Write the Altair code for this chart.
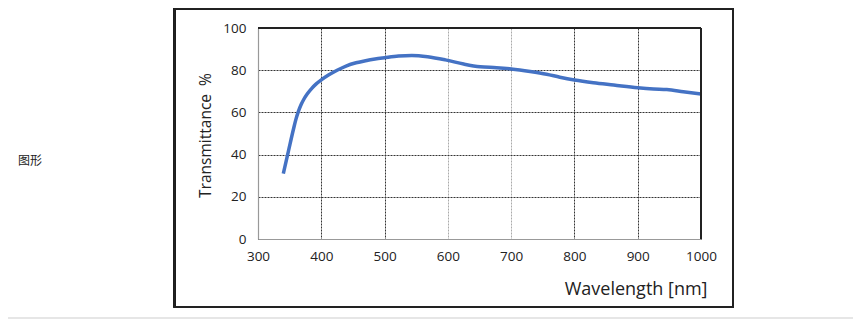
import altair as alt
import pandas as pd

wavelength = [340, 348, 356, 360, 364, 368, 372, 378, 385, 392, 400, 412, 425, 440, 455, 470, 485, 500,
              522, 543, 568, 596, 625, 651, 677, 700, 730, 756, 777, 800, 830, 862, 900, 925, 946,
              972, 1000]
transmittance = [31.0, 41.5, 52.0, 56.8, 60.6, 63.6, 66.0, 68.8, 71.4, 73.5, 75.4, 77.8, 80.0, 82.1,
                 83.5, 84.5, 85.3, 85.9, 86.7, 87.0, 86.4, 84.9, 82.9, 81.6, 81.2, 80.6, 79.4,
                 78.1, 76.7, 75.4, 74.1, 73.0, 71.7, 71.1, 70.8, 69.8, 68.7]
x_ticks = [300, 400, 500, 600, 700, 800, 900, 1000]
y_ticks = [0, 20, 40, 60, 80, 100]
side_label = "图形"
x_title = "Wavelength [nm]"
y_title = "Transmittance\u00a0\u00a0%"

W, H = 443, 211
FONT = "Open Sans"

df = pd.DataFrame({"wl": wavelength, "t": transmittance})

grid_color = {"condition": {"test": "datum.value == 600 || datum.value == 700", "value": "#aaaaaa"},
              "value": "#333333"}

line = alt.Chart(df).mark_line(color="#4472C4", strokeWidth=3.5, interpolate="monotone").encode(
    x=alt.X("wl:Q", scale=alt.Scale(domain=[300, 1000], nice=False),
            axis=alt.Axis(values=x_ticks, format="d", title=x_title, grid=True, gridColor=grid_color,
                          gridDash=[2, 1], gridWidth=1, domainColor="#999999", domainWidth=1.2,
                          ticks=False, labelPadding=17, labelBaseline="middle",
                          labelFont=FONT, labelFontSize=13.5, labelColor="#222222",
                          titleFont=FONT, titleFontSize=18, titleFontWeight="normal",
                          titleColor="#222222", titleAnchor="end", titleAlign="right",
                          titleBaseline="alphabetic", titleX=W + 6, titleY=55, labelFlush=False)),
    y=alt.Y("t:Q", scale=alt.Scale(domain=[0, 100], nice=False),
            axis=alt.Axis(values=y_ticks, format="d", title=y_title, grid=True, gridColor="#333333",
                          gridDash=[2, 1], gridWidth=1, domainColor="#999999", domainWidth=1.2,
                          ticks=False, labelPadding=12,
                          labelFont=FONT, labelFontSize=13.5, labelColor="#222222",
                          titleFont=FONT, titleFontSize=15.5, titleFontWeight="normal",
                          titleColor="#222222", titleAngle=270, titleBaseline="middle",
                          titleAlign="center", titleX=-53, titleY=107)),
)

top_border = alt.Chart(df).mark_rule(color="#222222", strokeWidth=1.2).encode(
    x=alt.value(0), x2=alt.value(W), y=alt.value(0))
right_border = alt.Chart(df).mark_rule(color="#222222", strokeWidth=1.2).encode(
    x=alt.value(W), y=alt.value(0), y2=alt.value(H))

# outer frame (absolute 174..733, 8..307); plot origin at (258, 28)
frame = alt.Chart(df).mark_rect(fill=None, stroke="#222222", strokeWidth=1.2).encode(
    x=alt.value(174 - 258 + 0.5), x2=alt.value(733 - 258),
    y=alt.value(8 - 28 + 0.7), y2=alt.value(307 - 28))
bottom_line = alt.Chart(df).mark_rule(color="#e6e6e6", strokeWidth=2).encode(
    x=alt.value(-258), x2=alt.value(854 - 258), y=alt.value(318.5 - 28))
side = alt.Chart(pd.DataFrame({"s": [side_label]})).mark_text(
    font="Noto Sans CJK SC", fontSize=12, color="#222222", align="left", baseline="middle").encode(
    x=alt.value(18 - 258), y=alt.value(160.5 - 28), text="s:N")

chart = alt.layer(frame, bottom_line, side, line, top_border, right_border).properties(
    width=W, height=H,
    autosize=alt.AutoSizeParams(type="none"),
    padding={"left": 250, "top": 20, "right": 152, "bottom": 80},
).configure_view(stroke=None).configure(background="white")

chart.save("out.html", embed_options={"renderer": "svg", "actions": False})
